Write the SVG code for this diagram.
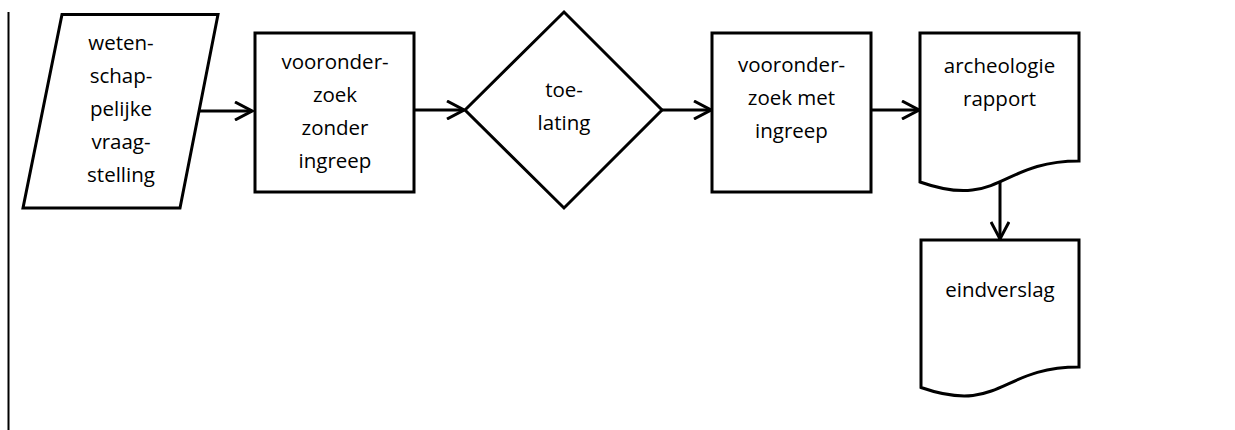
<svg xmlns="http://www.w3.org/2000/svg" width="1235" height="430" viewBox="0 0 1235 430">
  <style>
    .shape { fill: #ffffff; stroke: #000000; stroke-width: 3; stroke-linejoin: miter; }
    .conn { fill: none; stroke: #000000; stroke-width: 3; }
    .lbl { font-family: "Open Sans", "Liberation Sans", sans-serif; font-size: 20.5px; fill: #000000; text-anchor: middle; }
  </style>
  <defs>
    <marker id="arrow" viewBox="0 0 20 20" refX="18" refY="10" markerWidth="20" markerHeight="20" markerUnits="userSpaceOnUse" orient="auto">
      <path d="M1,1 L18,10 L1,19" fill="none" stroke="#000000" stroke-width="3"/>
    </marker>
  </defs>
  <rect x="0" y="0" width="1235" height="430" fill="#ffffff"/>
  <line x1="8.5" y1="12" x2="8.5" y2="430" stroke="#000000" stroke-width="2"/>

  <g id="connectors">
    <line class="conn" x1="199" y1="111" x2="252" y2="111" marker-end="url(#arrow)"/>
    <line class="conn" x1="414" y1="110" x2="464" y2="110" marker-end="url(#arrow)"/>
    <line class="conn" x1="662" y1="110" x2="711" y2="110" marker-end="url(#arrow)"/>
    <line class="conn" x1="871" y1="110" x2="919" y2="110" marker-end="url(#arrow)"/>
    <line class="conn" x1="1000" y1="182" x2="1000" y2="239" marker-end="url(#arrow)"/>
  </g>

  <g id="vraagstelling">
    <polygon class="shape" points="62,14.5 218,14.5 180,208 23,208"/>
    <text class="lbl" x="121" y="50">weten-</text>
    <text class="lbl" x="121" y="83">schap-</text>
    <text class="lbl" x="121" y="116">pelijke</text>
    <text class="lbl" x="121" y="149">vraag-</text>
    <text class="lbl" x="121" y="182">stelling</text>
  </g>

  <g id="vooronderzoek-zonder">
    <rect class="shape" x="255" y="33" width="159" height="159"/>
    <text class="lbl" x="335" y="69">vooronder-</text>
    <text class="lbl" x="335" y="102">zoek</text>
    <text class="lbl" x="335" y="135">zonder</text>
    <text class="lbl" x="335" y="168">ingreep</text>
  </g>

  <g id="toelating">
    <polygon class="shape" points="465,110 564,12 662,110 564,208"/>
    <text class="lbl" x="564" y="97">toe-</text>
    <text class="lbl" x="564" y="130">lating</text>
  </g>

  <g id="vooronderzoek-met">
    <rect class="shape" x="712" y="33" width="159" height="159"/>
    <text class="lbl" x="791.5" y="72">vooronder-</text>
    <text class="lbl" x="791.5" y="105">zoek met</text>
    <text class="lbl" x="791.5" y="138">ingreep</text>
  </g>

  <g id="archeologie-rapport">
    <path class="shape" d="M920,33 H1079 V161 C999.5,161 999.5,210 920,182 Z"/>
    <text class="lbl" x="999.5" y="73">archeologie</text>
    <text class="lbl" x="999.5" y="106">rapport</text>
  </g>

  <g id="eindverslag">
    <path class="shape" d="M921,240 H1079 V367 C1000,367 1000,415 921,387.5 Z"/>
    <text class="lbl" x="1000" y="297">eindverslag</text>
  </g>
</svg>
